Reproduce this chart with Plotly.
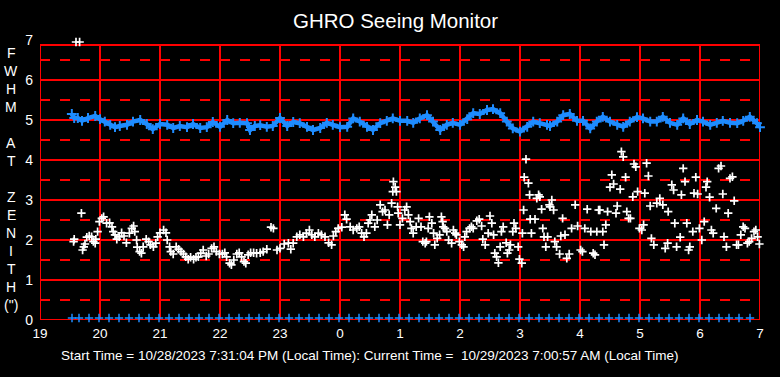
import plotly.graph_objects as go

# ---------------- data (hours since 00:00 on 10/28; 24+ = next day) ----------------
blue_t = [19.53, 19.57, 19.63, 19.70, 19.80, 19.92, 20.00, 20.08, 20.17, 20.25, 20.33, 20.45,
          20.55, 20.67, 20.78, 20.88, 21.00, 21.12, 21.22, 21.33, 21.45, 21.55, 21.67, 21.78,
          21.88, 22.00, 22.12, 22.22, 22.33, 22.45, 22.50, 22.58, 22.67, 22.78, 22.88, 23.00,
          23.12, 23.22, 23.33, 23.45, 23.55, 23.67, 23.78, 23.88, 24.00, 24.12, 24.22, 24.33,
          24.45, 24.55, 24.67, 24.78, 24.88, 25.00, 25.12, 25.22, 25.33, 25.45, 25.55, 25.67,
          25.78, 25.88, 26.00, 26.12, 26.22, 26.33, 26.45, 26.55, 26.67, 26.78, 26.88, 27.00,
          27.12, 27.22, 27.33, 27.45, 27.50, 27.62, 27.72, 27.83, 27.95, 28.05, 28.17, 28.28,
          28.38, 28.50, 28.62, 28.72, 28.83, 28.95, 29.05, 29.17, 29.28, 29.38, 29.50, 29.62,
          29.72, 29.83, 29.95, 30.05, 30.17, 30.28, 30.38, 30.50, 30.62, 30.72, 30.83, 30.95, 31.00]
blue_v = [5.15, 5.05, 5.05, 4.98, 5.05, 5.10, 5.02, 4.96, 4.88, 4.82, 4.85, 4.88,
          4.96, 5.00, 4.90, 4.77, 4.90, 4.88, 4.80, 4.85, 4.82, 4.90, 4.80, 4.82,
          4.95, 4.83, 5.00, 4.92, 4.93, 4.92, 4.75, 4.85, 4.87, 4.83, 4.85, 5.05,
          4.85, 4.95, 4.92, 4.83, 4.75, 4.80, 4.93, 4.88, 4.82, 4.83, 5.04, 4.96,
          4.83, 4.75, 4.92, 4.98, 5.04, 4.98, 4.98, 4.93, 5.04, 5.12, 4.96, 4.75,
          4.88, 4.93, 4.88, 5.02, 5.17, 5.15, 5.25, 5.27, 5.17, 4.96, 4.79, 4.71,
          4.83, 4.96, 4.92, 4.88, 4.85, 4.96, 5.12, 5.15, 4.98, 4.98, 4.79, 4.96,
          5.08, 4.96, 4.88, 4.83, 4.96, 5.07, 5.04, 4.96, 4.96, 5.08, 4.93, 4.88,
          5.04, 4.90, 5.00, 4.96, 4.88, 4.93, 4.98, 4.93, 4.92, 4.98, 5.08, 4.92, 4.82]

white_t = [19.60, 19.66,
           19.56, 19.57, 19.69, 19.71, 19.73, 19.75, 19.78, 19.82, 19.86, 19.89, 19.92, 19.93,
           19.96, 19.99, 20.03, 20.06, 20.11, 20.16, 20.20, 20.22, 20.25, 20.28, 20.32, 20.36,
           20.40, 20.44, 20.49, 20.53, 20.56, 20.58, 20.61, 20.62, 20.66, 20.69, 20.72, 20.77,
           20.81, 20.84, 20.89, 20.93, 20.96, 21.00, 21.06, 21.10, 21.12, 21.16, 21.18, 21.22,
           21.27, 21.31, 21.35, 21.39, 21.43, 21.47, 21.51, 21.56, 21.60, 21.64, 21.68, 21.72,
           21.77, 21.81, 21.86, 21.90, 21.94, 21.99, 22.04, 22.08, 22.11, 22.16, 22.19, 22.23,
           22.28, 22.32, 22.36, 22.40, 22.43, 22.47, 22.51, 22.56, 22.61, 22.67, 22.72, 22.78,
           22.85, 22.89, 22.95, 23.00, 23.07, 23.14, 23.18, 23.22, 23.28, 23.33, 23.39, 23.44,
           23.49, 23.53, 23.58, 23.64, 23.69, 23.75, 23.81, 23.86, 23.89, 23.93, 23.97, 24.03,
           24.08, 24.11, 24.17, 24.22, 24.28, 24.32, 24.36, 24.40, 24.44, 24.47, 24.50, 24.53,
           24.58, 24.62, 24.67, 24.71, 24.75, 24.79, 24.82, 24.86, 24.88, 24.89, 24.92, 24.94,
           24.96, 24.97, 25.00, 25.04, 25.08, 25.11, 25.14, 25.17, 25.19, 25.22, 25.27, 25.31,
           25.35, 25.38, 25.42, 25.44, 25.47, 25.49, 25.53, 25.56, 25.58, 25.62, 25.66, 25.69,
           25.71, 25.72, 25.75, 25.78, 25.81, 25.86, 25.89, 25.92, 25.94, 25.99, 26.03, 26.06,
           26.08, 26.11, 26.16, 26.19, 26.22, 26.28, 26.32, 26.36, 26.38, 26.42, 26.47, 26.50,
           26.53, 26.56, 26.58, 26.61, 26.64, 26.67, 26.69, 26.72, 26.77, 26.79, 26.82, 26.84,
           26.88, 26.90, 26.93, 26.97, 26.99, 27.03, 27.04, 27.06, 27.07, 27.10, 27.14, 27.16,
           27.17, 27.19, 27.25, 27.28, 27.31, 27.33, 27.36, 27.38, 27.40, 27.43, 27.46, 27.49,
           27.50, 27.53, 27.56, 27.58, 27.61, 27.66, 27.68, 27.71, 27.75, 27.78, 27.82, 27.86,
           27.92, 27.96, 28.01, 28.04, 28.08, 28.12, 28.18, 28.22, 28.25, 28.28, 28.31, 28.33,
           28.38, 28.40, 28.43, 28.46, 28.50, 28.53, 28.56, 28.60, 28.62, 28.67, 28.69, 28.72,
           28.76, 28.78, 28.81, 28.84, 28.88, 28.90, 28.93, 28.96, 28.99, 29.03, 29.06, 29.08,
           29.11, 29.14, 29.17, 29.19, 29.23, 29.28, 29.33, 29.38, 29.42, 29.46, 29.47, 29.53,
           29.56, 29.58, 29.61, 29.67, 29.69, 29.72, 29.75, 29.78, 29.81, 29.83, 29.88, 29.90,
           29.93, 29.96, 29.99, 30.03, 30.07, 30.10, 30.12, 30.16, 30.19, 30.22, 30.27, 30.31,
           30.35, 30.38, 30.40, 30.44, 30.47, 30.50, 30.54, 30.57, 30.61, 30.64, 30.68, 30.72,
           30.75, 30.79, 30.82, 30.86, 30.90, 30.93, 30.96, 30.99, 31.01]
white_v = [6.95, 6.95,
           1.96, 2.02, 2.67, 1.75, 1.83, 1.90, 2.07, 2.10, 2.08, 1.96, 1.92, 2.02,
           2.21, 2.46, 2.54, 2.58, 2.42, 2.43, 2.33, 2.21, 2.13, 2.02, 2.08, 2.18,
           2.10, 1.93, 2.17, 2.29, 2.35, 2.21, 2.00, 1.82, 1.71, 1.67, 1.83, 2.02,
           1.96, 1.88, 1.83, 1.92, 2.08, 2.18, 2.25, 2.18, 2.00, 1.83, 1.71, 1.65,
           1.83, 1.77, 1.71, 1.65, 1.58, 1.52, 1.57, 1.52, 1.57, 1.58, 1.67, 1.75,
           1.60, 1.65, 1.79, 1.83, 1.71, 1.65, 1.65, 1.68, 1.58, 1.42, 1.38, 1.50,
           1.65, 1.68, 1.58, 1.46, 1.42, 1.63, 1.68, 1.68, 1.67, 1.68, 1.71, 1.77,
           2.32, 2.29, 1.75, 1.79, 1.90, 1.92, 1.77, 1.92, 2.08, 2.13, 2.08, 2.17,
           2.25, 2.13, 2.08, 2.17, 2.13, 2.08, 1.93, 1.88, 2.10, 2.21, 2.29, 2.32,
           2.63, 2.52, 2.33, 2.25, 2.29, 2.33, 2.17, 2.08, 2.17, 2.42, 2.50, 2.63,
           2.33, 2.50, 2.88, 2.71, 2.75, 2.38, 2.63, 2.92, 3.21, 3.46, 3.32, 3.21,
           2.83, 2.67, 2.38, 2.54, 2.75, 2.83, 2.63, 2.46, 2.29, 2.17, 2.33, 2.54,
           2.33, 1.96, 1.92, 1.96, 2.29, 2.58, 2.42, 2.17, 1.88, 2.04, 2.13, 2.58,
           2.46, 2.33, 2.29, 2.21, 2.00, 1.92, 2.25, 2.17, 2.13, 1.96, 1.88, 1.83,
           2.08, 2.21, 2.29, 2.33, 2.29, 2.48, 2.52, 2.35, 2.02, 1.88, 2.17, 2.60,
           2.42, 2.13, 1.67, 1.58, 1.43, 1.83, 2.21, 2.33, 1.93, 1.67, 1.75, 1.88,
           2.21, 2.42, 2.29, 1.83, 1.52, 1.42, 2.17, 2.75, 3.57, 4.02, 3.42, 3.13,
           2.52, 2.17, 2.52, 3.04, 3.13, 3.08, 2.77, 2.29, 2.08, 1.83, 2.08, 2.88,
           2.83, 3.00, 2.75, 1.96, 1.83, 1.65, 2.10, 2.54, 2.13, 1.54, 1.65, 2.29,
           2.88, 2.35, 1.75, 1.71, 2.29, 2.77, 2.21, 1.67, 1.63, 2.21, 2.75, 2.75,
           2.21, 1.88, 2.38, 2.71, 3.32, 3.63, 3.40, 2.67, 2.85, 3.27, 4.21, 4.08,
           3.57, 2.71, 2.54, 2.54, 3.08, 3.90, 3.83, 3.21, 2.29, 2.25, 2.38, 3.17,
           3.92, 3.60, 2.85, 2.04, 1.88, 2.92, 3.04, 2.88, 1.79, 1.92, 2.71, 3.38,
           3.25, 2.42, 1.83, 2.07, 3.13, 3.79, 3.46, 2.42, 1.75, 1.83, 2.21, 3.17,
           3.57, 3.15, 2.29, 2.00, 2.46, 3.32, 3.46, 3.07, 2.25, 2.17, 2.79, 3.79,
           3.85, 3.15, 2.08, 1.83, 2.67, 3.54, 3.58, 2.98, 1.88, 1.88, 2.13, 2.33,
           2.29, 1.92, 1.96, 2.04, 2.21, 2.25, 2.08, 1.90, 1.83]

# baseline markers: minutes after 19:00, plotted at the bottom of the chart
base_min = [32, 39, 49, 59, 69, 79, 89, 99, 109, 119, 129, 139, 149, 159, 169, 179, 189,
            199, 209, 219, 229, 239, 249, 259, 269, 279, 289, 299, 309, 319, 329, 339, 349,
            359, 369, 379, 389, 399, 409, 419, 429, 439, 449, 459, 469, 479, 489, 499, 509,
            519, 529, 539, 549, 559, 569, 579, 589, 599, 609, 619, 629, 639, 649, 659, 669,
            679, 689, 699, 710]
base_v = [0.05] * len(base_min)

tick_vals = [19, 20, 21, 22, 23, 24, 25, 26, 27, 28, 29, 30, 31]
tick_text = ["19", "20", "21", "22", "23", "0", "1", "2", "3", "4", "5", "6", "7"]
y_ticks = [0, 1, 2, 3, 4, 5, 6, 7]

title_text = "GHRO Seeing Monitor"
ylabel_letters = ["F", "W", "H", "M", "", "A", "T", "", "Z", "E", "N", "I", "T", "H", "(\")"]
footer = ("Start Time = 10/28/2023 7:31:04 PM (Local Time): "
          "Current Time =\u00a0 10/29/2023 7:00:57 AM (Local Time)")

# ---------------- figure ----------------
RED = "#ff0000"
BLUE = "#1e8cff"
FONT = "Liberation Sans, Arial, sans-serif"
x0, x1 = tick_vals[0], tick_vals[-1]
frame_top = 6.875

fig = go.Figure()

shapes = []
for yv in [1, 2, 3, 4, 5, 6]:
    shapes.append(dict(type="line", xref="x", yref="y", x0=x0, x1=x1, y0=yv, y1=yv,
                       line=dict(color=RED, width=2), layer="below"))
for yv in [0.5, 1.5, 2.5, 3.5, 4.5, 5.5, 6.5]:
    shapes.append(dict(type="line", xref="x", yref="y", x0=x0, x1=x1, y0=yv, y1=yv,
                       line=dict(color=RED, width=2, dash="10px,10px"), layer="below"))
for xv in tick_vals[1:-1]:
    shapes.append(dict(type="line", xref="x", yref="y", x0=xv, x1=xv, y0=0, y1=frame_top,
                       line=dict(color=RED, width=2), layer="below"))
shapes.append(dict(type="rect", xref="x", yref="y", x0=x0, x1=x1, y0=0, y1=frame_top,
                   line=dict(color=RED, width=2), layer="below"))

fig.add_trace(go.Scatter(x=blue_t, y=blue_v, mode="lines+markers", cliponaxis=False,
                         line=dict(color=BLUE, width=4.5),
                         marker=dict(symbol="cross-thin", size=7, color=BLUE,
                                     line=dict(color=BLUE, width=2)),
                         showlegend=False, hoverinfo="skip"))
fig.add_trace(go.Scatter(x=white_t, y=white_v, mode="markers", cliponaxis=False,
                         marker=dict(symbol="cross-thin", size=6, color="white",
                                     line=dict(color="white", width=1.7)),
                         showlegend=False, hoverinfo="skip"))
fig.add_trace(go.Scatter(x=[19 + m / 60 for m in base_min], y=base_v, mode="markers",
                         cliponaxis=False,
                         marker=dict(symbol="cross-thin", size=6, color=BLUE,
                                     line=dict(color=BLUE, width=1.5)),
                         showlegend=False, hoverinfo="skip"))

annotations = [
    dict(text=title_text, xref="paper", yref="paper", x=0.4935, y=1.0,
         xanchor="center", yanchor="middle", yshift=20, showarrow=False,
         font=dict(family=FONT, size=20.5, color="white")),
    dict(text=footer, xref="paper", yref="paper", x=0.458, y=0, yshift=-35,
         xanchor="center", yanchor="middle", showarrow=False,
         font=dict(family=FONT, size=13.5, color="white")),
]
for i, ch in enumerate(ylabel_letters):
    if ch:
        annotations.append(dict(text=ch, xref="paper", yref="y", x=0, xshift=-29,
                                y=(320 - (53 + 18 * i)) / 40, xanchor="center",
                                yanchor="middle", showarrow=False,
                                font=dict(family=FONT, size=14, color="white")))

fig.update_layout(
    width=780, height=377,
    margin=dict(l=40, r=20, t=40, b=57, pad=0),
    paper_bgcolor="black", plot_bgcolor="black",
    shapes=shapes, annotations=annotations,
    xaxis=dict(range=[x0, x1], tickmode="array", tickvals=tick_vals, ticktext=tick_text,
               showgrid=False, zeroline=False, showline=False, ticks="",
               ticklabelstandoff=3,
               tickfont=dict(family=FONT, size=13.5, color="white")),
    yaxis=dict(range=[0, 7], tickmode="array", tickvals=y_ticks,
               showgrid=False, zeroline=False, showline=False, ticks="",
               ticklabelstandoff=6,
               tickfont=dict(family=FONT, size=14, color="white")),
)

fig.write_html("out.html", config={"displayModeBar": False},
               post_script="document.body.style.margin='0';"
                           "document.body.style.background='black';")
